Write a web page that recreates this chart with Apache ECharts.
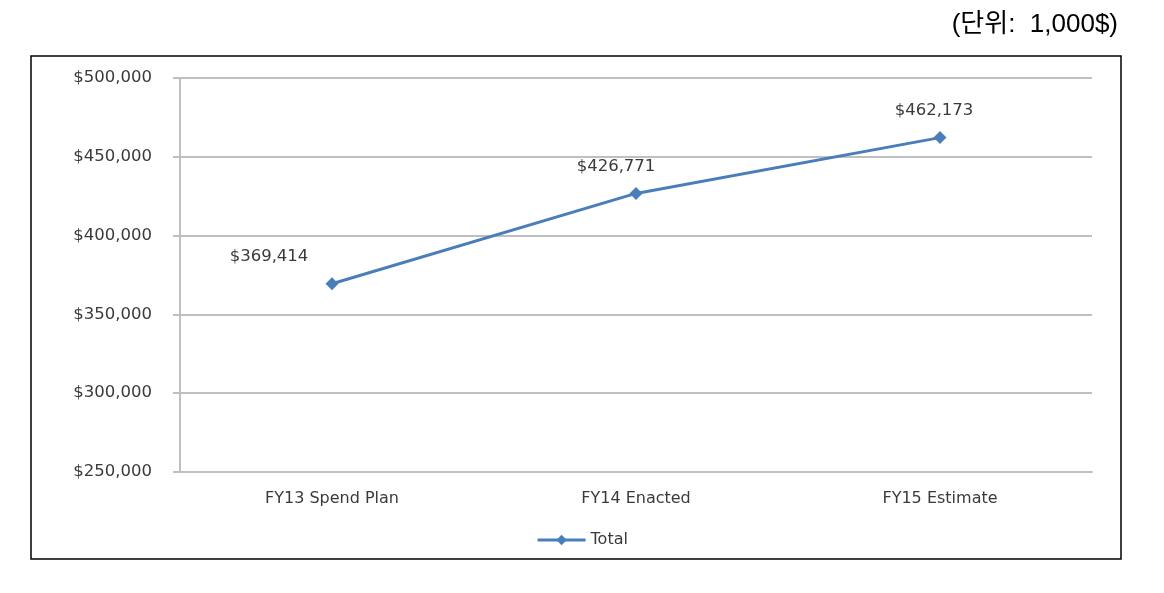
<!DOCTYPE html>
<html><head><meta charset="utf-8">
<script src="https://cdn.jsdelivr.net/npm/echarts@6/dist/echarts.min.js"></script>
<style>html,body{margin:0;padding:0;background:#fff}#c{width:1164px;height:593px}</style>
</head><body><div id="c"></div>
<script>
const categories = ['FY13 Spend Plan', 'FY14 Enacted', 'FY15 Estimate'];
const totalValues = [369414, 426771, 462173];
const seriesName = 'Total';
const unitText = '(단위:  1,000$)';

const labelOffsets = [[-63, -2], [-20, -2], [-6, -2]];
const fmt = v => '$' + v.toLocaleString('en-US');
const FONT = 'DejaVu Sans';

const chart = echarts.init(document.getElementById('c'));
chart.setOption({
  animation: false,
  graphic: [
    { type: 'rect', shape: { x: 31, y: 56, width: 1090, height: 503 },
      style: { fill: 'none', stroke: '#000', lineWidth: 1.5 }, z: 10 },
    { type: 'text', right: 46, top: 12,
      style: { text: unitText, font: '26px "Liberation Sans", "Noto Sans CJK KR"', fill: '#000' } }
  ],
  grid: { left: 180, top: 78, width: 912, height: 394 },
  legend: {
    bottom: 40, left: 'center', data: [seriesName],
    itemWidth: 48, itemHeight: 13, itemGap: 4,
    lineStyle: { width: 3 },
    textStyle: { color: '#3a3a3a', fontFamily: FONT, fontSize: 16 }
  },
  xAxis: {
    type: 'category', data: categories, boundaryGap: true,
    axisLine: { lineStyle: { color: '#bfbfbf', width: 2 } },
    axisTick: { show: false },
    axisLabel: { color: '#3a3a3a', fontFamily: FONT, fontSize: 16, margin: 19 }
  },
  yAxis: {
    type: 'value', min: 250000, max: 500000, interval: 50000,
    axisLine: { show: true, lineStyle: { color: '#bfbfbf', width: 2 } },
    axisTick: { show: true, length: 7, lineStyle: { color: '#bfbfbf', width: 2 } },
    splitLine: { lineStyle: { color: '#bfbfbf', width: 2 } },
    axisLabel: { color: '#3a3a3a', fontFamily: FONT, fontSize: 16.5, margin: 28,
      formatter: v => fmt(v) }
  },
  series: [{
    name: seriesName, type: 'line',
    data: totalValues.map((v, i) => ({ value: v,
      label: { offset: labelOffsets[i] } })),
    symbol: 'diamond', symbolSize: 13,
    lineStyle: { color: '#4a7ebb', width: 3 },
    itemStyle: { color: '#4a7ebb' },
    label: { show: true, position: 'top', distance: 10, color: '#3a3a3a',
      fontFamily: FONT, fontSize: 16.5, formatter: p => fmt(p.value) }
  }]
});
</script></body></html>
